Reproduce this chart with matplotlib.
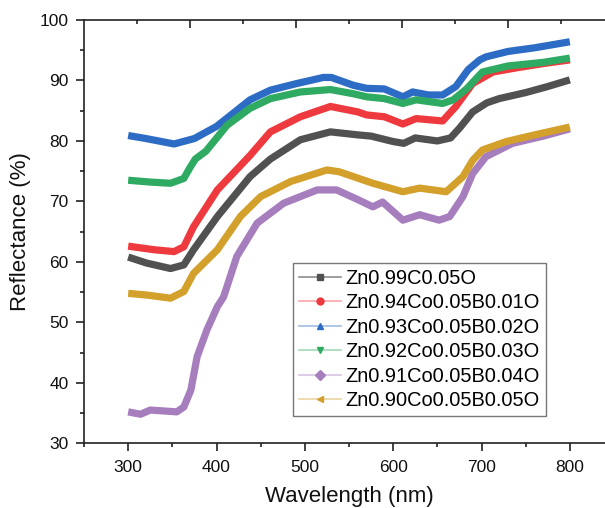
import matplotlib
matplotlib.use("Agg")
import matplotlib.pyplot as plt
from matplotlib.lines import Line2D
from matplotlib.ticker import MultipleLocator, FixedLocator
import matplotlib.colors as mcolors

plt.rcParams['font.family'] = ['Liberation Sans', 'DejaVu Sans']

labels = ["Zn0.99C0.05O", "Zn0.94Co0.05B0.01O", "Zn0.93Co0.05B0.02O",
          "Zn0.92Co0.05B0.03O", "Zn0.91Co0.05B0.04O", "Zn0.90Co0.05B0.05O"]
colors = ["#515151", "#EE3A3E", "#2C6CC4", "#2FAA62", "#A67DBD", "#D3A02C"]
markers = ["s", "o", "^", "v", "D", "<"]

# Reflectance spectra (wavelength in nm, reflectance in %)
wl_black = [300, 321, 348, 363, 374, 401, 438, 461, 495, 529, 560, 575, 600, 612, 625, 650, 665, 675, 690, 706, 720, 750, 775, 800]
r_black = [60.8, 59.8, 58.9, 59.5, 62.0, 67.5, 74.1, 77.0, 80.2, 81.5, 81.0, 80.8, 79.9, 79.6, 80.5, 80.0, 80.5, 82.1, 84.8, 86.3, 87.0, 88.0, 89.0, 90.1]

wl_red = [300, 330, 352, 363, 374, 401, 438, 461, 495, 529, 560, 570, 590, 611, 626, 656, 671, 690, 713, 740, 770, 800]
r_red = [62.6, 62.0, 61.7, 62.5, 65.8, 71.9, 77.6, 81.5, 84.0, 85.7, 84.8, 84.3, 84.0, 82.8, 83.7, 83.3, 85.7, 89.5, 91.4, 92.1, 92.8, 93.4]

wl_blue = [300, 320, 352, 375, 400, 438, 461, 491, 521, 530, 555, 570, 590, 611, 622, 640, 656, 671, 685, 698, 705, 730, 760, 800]
r_blue = [80.9, 80.4, 79.5, 80.4, 82.4, 86.8, 88.4, 89.5, 90.5, 90.5, 89.2, 88.7, 88.6, 87.3, 88.1, 87.6, 87.6, 89.0, 91.8, 93.4, 93.9, 94.8, 95.4, 96.4]

wl_green = [300, 325, 348, 363, 370, 376, 388, 412, 438, 461, 495, 529, 555, 570, 590, 611, 626, 656, 668, 683, 701, 730, 770, 800]
r_green = [73.5, 73.2, 73.0, 73.8, 75.6, 77.0, 78.3, 82.6, 85.4, 87.0, 88.1, 88.5, 87.8, 87.3, 87.0, 86.2, 86.8, 86.2, 86.8, 88.6, 91.4, 92.4, 93.0, 93.7]

wl_purple = [300, 314, 325, 355, 363, 371, 378, 389, 401, 408, 423, 446, 476, 514, 536, 560, 577, 588, 611, 630, 652, 664, 679, 690, 705, 735, 770, 800]
r_purple = [35.2, 34.8, 35.5, 35.2, 36.0, 38.8, 44.3, 48.7, 52.6, 54.2, 60.9, 66.4, 69.7, 71.9, 71.9, 70.3, 69.1, 69.9, 66.9, 67.8, 66.9, 67.5, 70.8, 74.6, 77.4, 79.6, 80.8, 82.0]

wl_gold = [300, 322, 348, 363, 374, 401, 427, 450, 484, 525, 539, 577, 611, 630, 660, 679, 690, 701, 728, 760, 800]
r_gold = [54.8, 54.5, 54.0, 55.1, 58.1, 62.0, 67.5, 70.8, 73.3, 75.2, 74.9, 73.0, 71.6, 72.2, 71.6, 74.1, 76.8, 78.5, 79.9, 81.0, 82.3]

series = [(wl_black, r_black), (wl_red, r_red), (wl_blue, r_blue),
          (wl_green, r_green), (wl_purple, r_purple), (wl_gold, r_gold)]

fig = plt.figure(figsize=(6.05, 5.08), dpi=100)
ax = fig.add_axes([84 / 605, 1 - 443.3 / 508, 530 / 605, 423.3 / 508])

for (wl, r), c in zip(series, colors):
    ax.plot(wl, r, color=c, lw=5.2, solid_capstyle='butt', solid_joinstyle='round')

ax.set_xlim(250, 850)
ax.set_ylim(30, 100)
ax.xaxis.set_major_locator(MultipleLocator(100))
ax.xaxis.set_minor_locator(MultipleLocator(50))
ax.yaxis.set_major_locator(MultipleLocator(10))
ax.yaxis.set_minor_locator(MultipleLocator(5))
ax.set_xticks([300, 400, 500, 600, 700, 800])

for s in ax.spines.values():
    s.set_linewidth(1.2)
    s.set_color("#222222")

ax.tick_params(axis='both', which='major', direction='out', length=6, width=1.2,
               labelsize=12.5, colors="#222222", labelcolor="#111111")
ax.tick_params(axis='both', which='minor', direction='out', length=3.2, width=1.2,
               colors="#222222")
ax.tick_params(axis='x', which='major', pad=6)
ax.tick_params(axis='y', which='major', pad=5)

# Tick marks along the top edge
top = ax.secondary_xaxis('top')
top.xaxis.set_major_locator(FixedLocator([370, 490, 610, 730]))
top.xaxis.set_minor_locator(FixedLocator([310, 430, 550, 670, 790]))
top.tick_params(which='major', direction='in', length=6, width=1.2, labeltop=False, colors="#222222")
top.tick_params(which='minor', direction='in', length=3, width=1.2, colors="#222222")
top.spines['top'].set_visible(False)
top.set_xticklabels([])

ax.set_xlabel("Wavelength (nm)", fontsize=16, labelpad=8, color="#111111")
ax.set_ylabel("Reflectance (%)", fontsize=16, labelpad=6, color="#111111")

handles = []
for c, m, lab in zip(colors, markers, labels):
    light = mcolors.to_rgb(c)
    mix = 0.35 if c == "#515151" else 0.55
    light = tuple(v + (1 - v) * mix for v in light)
    handles.append(Line2D([], [], color=light, lw=1.2, marker=m, markersize=5,
                          markerfacecolor=c, markeredgecolor=c, label=lab))

leg = ax.legend(handles=handles, loc='lower left', bbox_to_anchor=(0.394, 0.0645),
                borderaxespad=0, fontsize=14.4, frameon=True, fancybox=False,
                handlelength=2.1, handletextpad=0.25, labelspacing=0.27,
                borderpad=0.3)
leg.get_frame().set_edgecolor("#555555")
leg.get_frame().set_linewidth(1.0)

fig.savefig("out.png", dpi=100)
